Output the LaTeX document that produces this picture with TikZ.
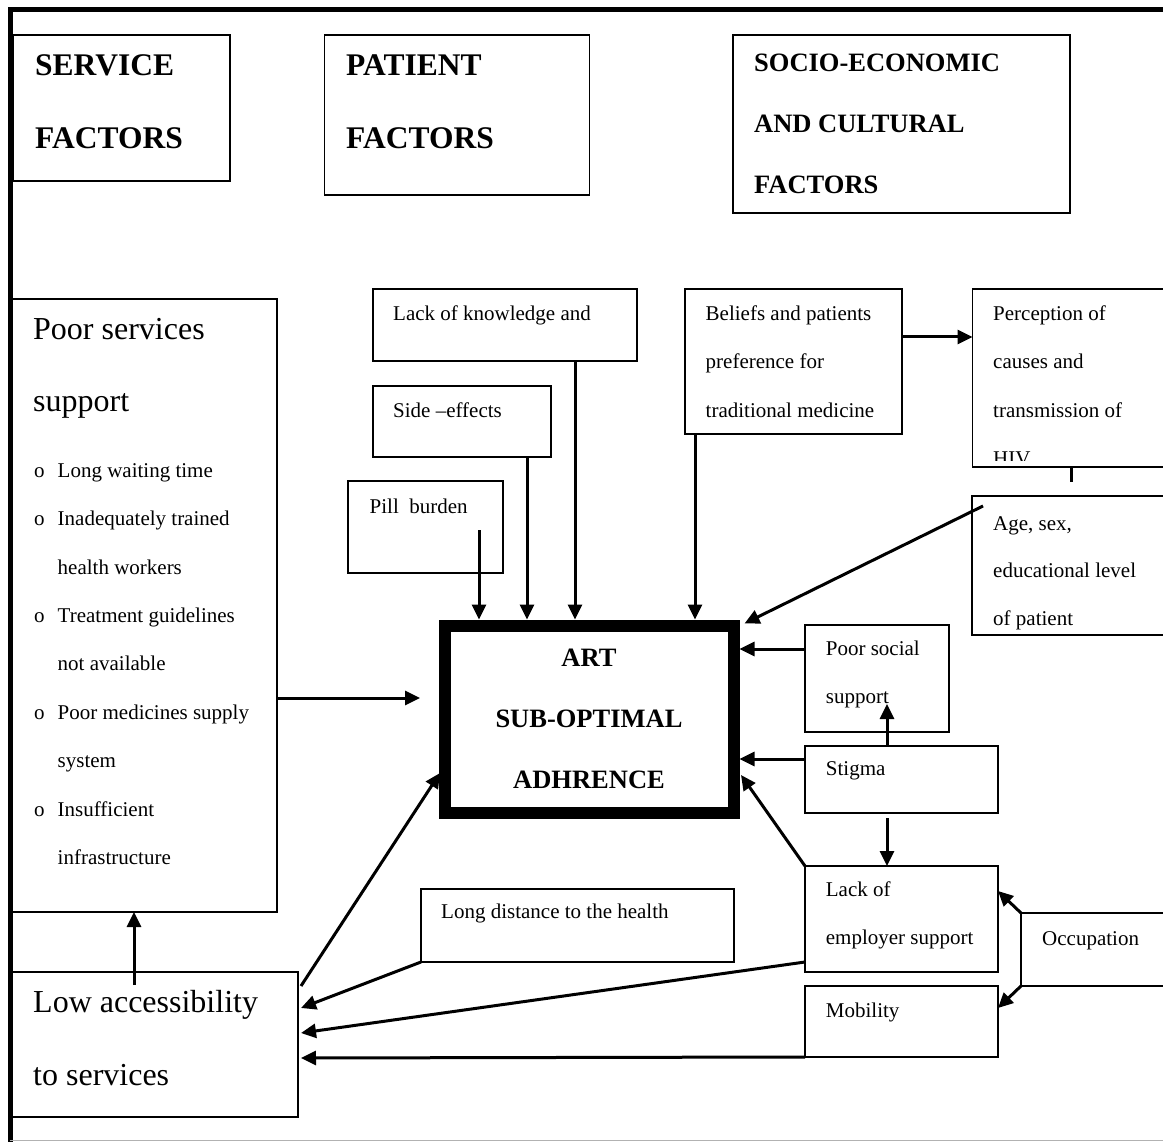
\documentclass[tikz,border=0pt]{standalone}
\usepackage{fontspec}
\setmainfont{Liberation Serif}
\usetikzlibrary{arrows.meta,calc}
\newcommand{\mlines}[1]{\begin{tabular}[t]{@{}l@{}}#1\end{tabular}}
\begin{document}
\begin{tikzpicture}[x=1pt,y=-1pt,
  bx/.style={draw, line width=1.6pt, inner sep=0pt, outer sep=0pt, anchor=north west},
  conn/.style={line width=3pt},
  arr/.style={conn, -{Triangle[length=15pt,width=14pt]}},
  sm/.style={font=\fontsize{21pt}{48.5pt}\selectfont, anchor=base west, inner sep=0pt},
  lg/.style={font=\fontsize{32pt}{73pt}\selectfont, anchor=base west, inner sep=0pt},
  hd/.style={font=\bfseries\fontsize{31.5pt}{73pt}\selectfont, anchor=base west, inner sep=0pt},
  hds/.style={font=\bfseries\fontsize{26.5pt}{61pt}\selectfont, anchor=base west, inner sep=0pt},
]
\useasboundingbox (0,0) rectangle (1163,1142);
\fill[white] (0,0) rectangle (1163,1142);
\clip (0,0) rectangle (1163,1142);

% frame
\draw[line width=5pt] (10.5,1142) -- (10.5,9.5) -- (1180,9.5);
\draw[gray!60, line width=1pt] (10,1140.5) -- (1180,1140.5);

% header boxes
\node[bx, minimum width=217, minimum height=146] (sf) at (13,35) {};
\node[hd] (sft) at (35,76) {\mlines{SERVICE\\FACTORS}};
\node[bx, minimum width=265, minimum height=160] (pf) at (324.5,35) {};
\node[hd] (pft) at (346,76) {\mlines{PATIENT\\FACTORS}};
\node[bx, minimum width=337, minimum height=178] (sc) at (733,35) {};
\node[hds] (sct) at (754,72) {\mlines{SOCIO-ECONOMIC\\AND CULTURAL\\FACTORS}};

% service side
\node[bx, minimum width=265, minimum height=613] (ps) at (12,299) {};
\node[lg] (pst) at (33,339) {\mlines{Poor services\\support}};
\node[sm] (psl) at (34,477) {\begin{tabular}[t]{@{}l@{\hspace{13pt}}l@{}}
o & Long waiting time\\
o & Inadequately trained\\
  & health workers\\
o & Treatment guidelines\\
  & not available\\
o & Poor medicines supply\\
  & system\\
o & Insufficient\\
  & infrastructure
\end{tabular}};
\node[bx, minimum width=286, minimum height=145] (la) at (12,972) {};
\node[lg] (lat) at (33,1012) {\mlines{Low accessibility\\to services}};

% patient side
\node[bx, minimum width=264, minimum height=72] (lk) at (373,289) {};
\node[sm] (lkt) at (393,320) {Lack of knowledge and};
\node[bx, minimum width=178, minimum height=71] (se) at (373,386) {};
\node[sm] (set) at (393,417) {Side –effects};
\node[bx, minimum width=155, minimum height=92] (pb) at (348,481) {};
\node[sm] (pbt) at (369.5,513) {Pill\ \ burden};
\node[bx, minimum width=217, minimum height=145] (bl) at (685,289) {};
\node[sm] (blt) at (705.5,320) {\mlines{Beliefs and patients\\preference for\\traditional medicine}};
\node[bx, minimum width=230, minimum height=178] (pc) at (972.5,289) {};
\begin{scope}
\clip (972,289) rectangle (1163,460);
\node[sm] (pct) at (993,320) {\mlines{Perception of\\causes and\\transmission of\\HIV}};
\end{scope}
\node[bx, minimum width=230, minimum height=139] (ag) at (972,496) {};
\node[sm, font=\fontsize{21pt}{47.5pt}\selectfont] (agt) at (993,530) {\mlines{Age, sex,\\educational level\\of patient}};

% centre
\node[draw, line width=12pt, minimum width=288.5, minimum height=187, inner sep=0pt] (art) at (589.25,719) {};
\node[font=\bfseries\fontsize{26.5pt}{61pt}\selectfont, anchor=base, inner sep=0pt] (artt) at (589,666)
  {\begin{tabular}[t]{@{}c@{}}ART\\SUB-OPTIMAL\\ADHRENCE\end{tabular}};

% socio side
\node[bx, minimum width=144, minimum height=107] (pss) at (805,625) {};
\node[sm] (psst) at (825.7,655) {\mlines{Poor social\\support}};
\node[bx, minimum width=193, minimum height=67] (st) at (805,746) {};
\node[sm] (stt) at (825.7,775) {Stigma};
\node[bx, minimum width=193, minimum height=106] (le) at (805,866) {};
\node[sm] (let) at (825.7,896) {\mlines{Lack of\\employer support}};
\node[bx, minimum width=193, minimum height=71] (mo) at (805,986) {};
\node[sm] (mot) at (825.7,1017) {Mobility};
\node[bx, minimum width=180, minimum height=73] (oc) at (1021,913) {};
\node[sm] (oct) at (1042,945) {Occupation};
\node[bx, minimum width=313, minimum height=73] (ld) at (421,889) {};
\node[sm] (ldt) at (441,918) {Long distance to the health};

% connectors
\draw[arr] ($(pb.north west)+(131,49)$) -- (479,0 |- art.north);
\draw[arr] (527,0 |- se.south) -- (527,0 |- art.north);
\draw[arr] (575,0 |- lk.south) -- (575,0 |- art.north);
\draw[arr] (695,0 |- bl.south) -- (695,0 |- art.north);
\draw[arr] (bl.east |- 0,337) -- (pc.west |- 0,337);
\coordinate (pcend) at (1071,482);
\draw[conn] (pcend |- pc.south) -- (pcend);
\draw[arr] ($(ag.north west)+(11,10)$) -- ($(art.north east)+(5,4)$);
\draw[arr] (pss.west |- 0,649) -- (art.east |- 0,649);
\draw[arr] (st.west |- 0,759) -- (art.east |- 0,759);
\draw[arr] (887,0 |- st.north) -- ($(pss.south west)+(82,-28)$);
\draw[arr] ($(st.south west)+(82,5)$) -- (887,0 |- le.north);
\draw[arr] (oc.north west) -- (le.east |- 0,891);
\draw[arr] (oc.south west) -- (mo.east |- 0,1008);
\draw[arr] (le.north west) -- ($(art.east)+(1.5,56)$);
\draw[arr] ($(la.north east)+(3,14)$) -- ($(art.west)+(1,54)$);
\draw[arr] (ld.south west) -- ($(la.east |- 0,1008)+(3,0)$);
\draw[arr] (le.west |- 0,962) -- ($(la.east |- 0,1033)+(3,0)$);
\draw[arr] (mo.south west) -- ($(la.east |- 0,1058)+(3,0)$);
\draw[arr] ($(la.north west)+(122,13)$) -- (134,0 |- ps.south);
\draw[arr] (ps.east |- 0,698) -- ($(art.west |- 0,698)+(-19,0)$);
\end{tikzpicture}
\end{document}
